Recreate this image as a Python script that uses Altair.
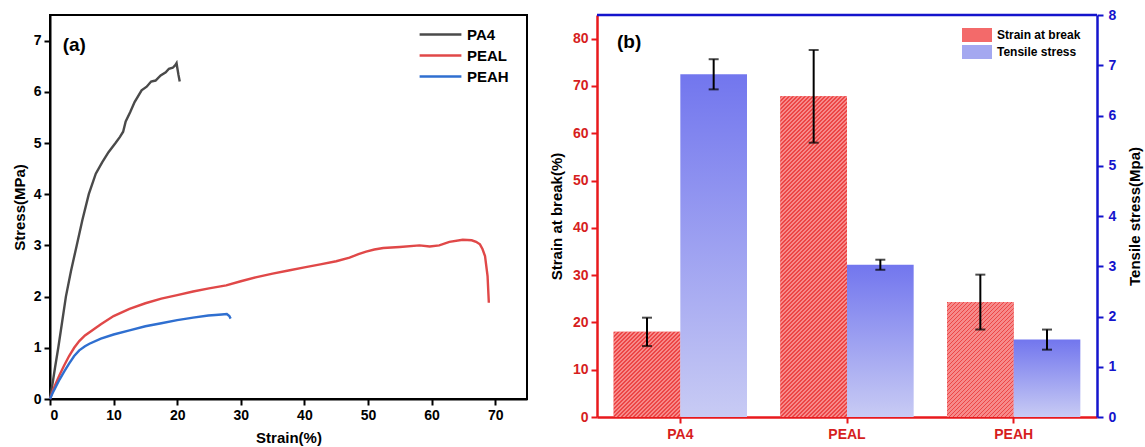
import altair as alt
import pandas as pd

# ---------------- Panel (a): stress-strain curves ----------------
samples = ["PA4", "PEAL", "PEAH"]
line_colors = ["#4a4a4a", "#e04848", "#2f6fd0"]

pa4_strain = [0, 0.4, 0.8, 1.3, 1.9, 2.5, 3.3, 4.2, 5.1, 6.1, 7.2, 8.2, 9.2, 10.3, 11.0, 11.5,
              11.9, 12.6, 13.3, 14.4, 15.2, 15.9, 16.6, 17.4, 18.2, 18.7, 19.3, 19.7, 19.9,
              20.0, 20.2, 20.4]
pa4_stress = [0, 0.3, 0.62, 1.0, 1.5, 2.0, 2.5, 3.0, 3.5, 4.0, 4.4, 4.62, 4.82, 5.0, 5.12, 5.22,
              5.42, 5.6, 5.8, 6.03, 6.1, 6.2, 6.22, 6.32, 6.38, 6.45, 6.47, 6.52, 6.56,
              6.48, 6.33, 6.2]

peal_strain = [0, 0.5, 1.0, 1.5, 2.2, 3.0, 3.8, 4.6, 5.5, 6.5, 8.0, 10.0, 12.5, 15.0, 17.5, 20.0,
               22.5, 25.0, 27.7, 30.0, 32.5, 35.0, 37.5, 40.0, 42.5, 45.0, 47.1, 48.5, 49.7,
               51.0, 52.4, 55.0, 58.1, 59.7, 61.2, 62.8, 64.9, 66.3, 67.0, 67.6, 68.0, 68.4,
               68.8, 69.0]
peal_stress = [0, 0.18, 0.33, 0.47, 0.65, 0.84, 1.0, 1.13, 1.24, 1.33, 1.46, 1.62, 1.76, 1.87,
               1.96, 2.03, 2.1, 2.16, 2.22, 2.3, 2.38, 2.45, 2.51, 2.57, 2.63, 2.69, 2.76, 2.83,
               2.88, 2.92, 2.95, 2.97, 3.0, 2.98, 3.0, 3.07, 3.11, 3.1, 3.07, 3.02, 2.93, 2.79,
               2.4, 1.88]

peah_strain = [0, 0.5, 1.0, 1.5, 2.2, 3.0, 3.8, 4.6, 5.5, 6.2, 8.0, 10.0, 12.5, 15.0, 17.5, 20.0,
               22.5, 24.9, 26.0, 27.0, 27.8, 28.2, 28.4]
peah_stress = [0, 0.14, 0.26, 0.38, 0.53, 0.69, 0.84, 0.95, 1.03, 1.08, 1.18, 1.26, 1.34, 1.42,
               1.48, 1.54, 1.59, 1.63, 1.64, 1.65, 1.66, 1.62, 1.57]

# ---------------- Panel (b): bar data ----------------
series_names = ["Strain at break", "Tensile stress"]
strain_break = [18.0, 67.8, 24.3]
strain_break_err = [3.0, 9.8, 5.8]
tensile = [6.82, 3.03, 1.54]
tensile_err = [0.3, 0.1, 0.2]

RED = "#e8191c"
RED_LABEL = "#d61e1e"
BLUE = "#1414cc"
FONT = "Liberation Sans"

A_W, A_H = 477, 384
B_W, B_H = 500, 402
YL_MAX, YR_MAX = 85, 8

rows = []
for name, xs, ys in [("PA4", pa4_strain, pa4_stress),
                     ("PEAL", peal_strain, peal_stress),
                     ("PEAH", peah_strain, peah_stress)]:
    for i, (sx, sy) in enumerate(zip(xs, ys)):
        rows.append({"sample": name, "strain": sx, "stress": sy, "idx": i})
curves = pd.DataFrame(rows)

curve_chart = alt.Chart(curves).mark_line(strokeWidth=2.4).encode(
    x=alt.X("strain:Q", scale=alt.Scale(domain=[0, 75], nice=False),
            axis=alt.Axis(values=list(range(0, 80, 10)), title="Strain(%)", grid=False,
                          domainColor="black", domainWidth=2, tickColor="black", tickWidth=2,
                          tickSize=6, labelFont=FONT, labelFontSize=14, labelFontWeight="bold",
                          labelColor="black", titleFont=FONT, titleFontSize=15,
                          titleFontWeight="bold", titleColor="black", labelPadding=3,
                          titlePadding=8)),
    y=alt.Y("stress:Q", scale=alt.Scale(domain=[0, 7.5], nice=False),
            axis=alt.Axis(values=list(range(0, 8)), title="Stress(MPa)", grid=False,
                          domainColor="black", domainWidth=2, tickColor="black", tickWidth=2,
                          tickSize=6, labelFont=FONT, labelFontSize=14, labelFontWeight="bold",
                          labelColor="black", titleFont=FONT, titleFontSize=15,
                          titleFontWeight="bold", titleColor="black", labelPadding=3,
                          titlePadding=6)),
    color=alt.Color("sample:N", scale=alt.Scale(domain=samples, range=line_colors),
                    legend=alt.Legend(title=None, orient="none", legendX=378, legendY=7,
                                      padding=0, symbolType="M-1.9,0H1.9", symbolSize=484,
                                      symbolStrokeWidth=2.6, labelFont=FONT, labelFontSize=15,
                                      labelFontWeight="bold", labelColor="black",
                                      rowPadding=0, labelOffset=14)),
    order="idx:Q",
)

label_a = alt.Chart(pd.DataFrame({"t": ["(a)"]})).mark_text(
    align="left", baseline="middle", font=FONT, fontSize=19, fontWeight="bold", color="black"
).encode(text="t:N", x=alt.datum(2.0), y=alt.datum(6.92))

panel_a = alt.layer(curve_chart, label_a).properties(
    width=A_W, height=A_H,
    view=alt.ViewBackground(stroke="black", strokeWidth=2),
)

# ---------------- Panel (b) ----------------
sdf = pd.DataFrame({
    "sample": samples,
    "series": series_names[0],
    "value": strain_break,
    "lo": [v - e for v, e in zip(strain_break, strain_break_err)],
    "hi": [v + e for v, e in zip(strain_break, strain_break_err)],
})
tdf = pd.DataFrame({
    "sample": samples,
    "series": series_names[1],
    "value": tensile,
    "lo": [v - e for v, e in zip(tensile, tensile_err)],
    "hi": [v + e for v, e in zip(tensile, tensile_err)],
})

xenc = alt.X("sample:N", sort=samples,
             scale=alt.Scale(paddingInner=0.2, paddingOuter=0.1),
             axis=alt.Axis(title=None, labelAngle=0, domainColor=RED, domainWidth=2.5,
                           tickColor=RED, tickWidth=2, tickSize=6, labelFont=FONT,
                           labelFontSize=14, labelFontWeight="bold", labelColor=RED_LABEL,
                           labelPadding=4))
xoff = alt.XOffset("series:N", scale=alt.Scale(domain=series_names, paddingInner=0,
                                               paddingOuter=0))

yl_scale = alt.Scale(domain=[0, YL_MAX], nice=False)
yr_scale = alt.Scale(domain=[0, YR_MAX], nice=False)

red_bars = alt.Chart(sdf).mark_bar(opacity=1).encode(
    x=xenc, xOffset=xoff,
    y=alt.Y("value:Q", scale=yl_scale,
            axis=alt.Axis(values=list(range(0, 90, 10)), title="Strain at break(%)",
                          grid=False, orient="left", domainColor=RED, domainWidth=2.5,
                          tickColor=RED, tickWidth=2, tickSize=6, labelFont=FONT,
                          labelFontSize=14, labelFontWeight="bold", labelColor=RED_LABEL,
                          titleFont=FONT, titleFontSize=15, titleFontWeight="bold",
                          titleColor="black", labelPadding=3, titlePadding=8)),
    color=alt.Color("series:N",
                    scale=alt.Scale(domain=series_names, range=["#f36a6a", "#a4a8f0"]),
                    legend=alt.Legend(title=None, orient="none", legendX=373, legendY=13,
                                      padding=0, symbolType="M-2.14,-1H2.14V1H-2.14Z",
                                      symbolSize=196, symbolStrokeWidth=0, labelFont=FONT,
                                      labelFontSize=12, labelFontWeight="bold",
                                      labelColor="black", rowPadding=3, labelOffset=13)),
)


# diagonal hatch drawn as a striped linear gradient, one per bar (bbox-relative)
def hatch(value):
    w = B_W / 3 * 0.8 / 2
    h = value / YL_MAX * B_H
    L = w + h
    period = 4.0
    dark_frac = 0.45
    stops = []
    k = 0
    while k * period < L:
        t0 = k * period / L
        t1 = min((k * period + period * dark_frac) / L, 1)
        t2 = min((k + 1) * period / L, 1)
        stops += [alt.GradientStop(color="#ec4646", offset=t0),
                  alt.GradientStop(color="#ec4646", offset=t1),
                  alt.GradientStop(color="#f68a8a", offset=t1),
                  alt.GradientStop(color="#f68a8a", offset=t2)]
        k += 1
    den = w * w + h * h
    return alt.Gradient(gradient="linear", stops=stops, x1=0, y1=0,
                        x2=w * L / den, y2=h * L / den)


hatch_layers = []
for s, v in zip(samples, strain_break):
    hatch_layers.append(
        alt.Chart(sdf).transform_filter(alt.datum.sample == s).mark_bar(color=hatch(v)).encode(
            x=xenc, xOffset=xoff, y=alt.Y("value:Q", scale=yl_scale))
    )

red_rule = alt.Chart(sdf).mark_rule(color="black", strokeWidth=2).encode(
    x=xenc, xOffset=xoff, y=alt.Y("lo:Q", scale=yl_scale), y2="hi:Q")
red_cap_lo = alt.Chart(sdf).mark_tick(color="black", thickness=2, size=10).encode(
    x=xenc, xOffset=xoff, y=alt.Y("lo:Q", scale=yl_scale))
red_cap_hi = alt.Chart(sdf).mark_tick(color="black", thickness=2, size=10).encode(
    x=xenc, xOffset=xoff, y=alt.Y("hi:Q", scale=yl_scale))
label_b = alt.Chart(pd.DataFrame({"t": ["(b)"]})).mark_text(
    align="left", baseline="middle", font=FONT, fontSize=19, fontWeight="bold", color="black"
).encode(text="t:N", x=alt.value(20), y=alt.datum(79.3))

left_layer = alt.layer(red_bars, *hatch_layers, red_rule, red_cap_lo, red_cap_hi, label_b)

blue_grad = alt.Gradient(
    gradient="linear",
    stops=[alt.GradientStop(color="#7276ee", offset=0),
           alt.GradientStop(color="#c8cbf4", offset=1)],
    x1=0, x2=0, y1=0, y2=1,
)
blue_bars = alt.Chart(tdf).mark_bar(color=blue_grad).encode(
    x=xenc, xOffset=xoff,
    y=alt.Y("value:Q", scale=yr_scale,
            axis=alt.Axis(values=list(range(0, 9)), title="Tensile stress(Mpa)", grid=False,
                          orient="right", domainColor=BLUE, domainWidth=2.5, tickColor=BLUE,
                          tickWidth=2, tickSize=6, labelFont=FONT, labelFontSize=14,
                          labelFontWeight="bold", labelColor=BLUE, titleFont=FONT,
                          titleFontSize=15, titleFontWeight="bold", titleColor="black",
                          titleAngle=270, titleBaseline="top", labelPadding=5,
                          titlePadding=12)),
)
blue_rule = alt.Chart(tdf).mark_rule(color="black", strokeWidth=2).encode(
    x=xenc, xOffset=xoff, y=alt.Y("lo:Q", scale=yr_scale), y2="hi:Q")
blue_cap_lo = alt.Chart(tdf).mark_tick(color="black", thickness=2, size=10).encode(
    x=xenc, xOffset=xoff, y=alt.Y("lo:Q", scale=yr_scale))
blue_cap_hi = alt.Chart(tdf).mark_tick(color="black", thickness=2, size=10).encode(
    x=xenc, xOffset=xoff, y=alt.Y("hi:Q", scale=yr_scale))
top_border = alt.Chart(pd.DataFrame({"v": [YR_MAX]})).mark_rule(
    color=BLUE, strokeWidth=2.5).encode(y=alt.Y("v:Q", scale=yr_scale))

right_layer = alt.layer(blue_bars, blue_rule, blue_cap_lo, blue_cap_hi, top_border)

panel_b = alt.layer(left_layer, right_layer).resolve_scale(y="independent").properties(
    width=B_W, height=B_H,
    view=alt.ViewBackground(stroke=None),
)

chart = alt.hconcat(panel_a, panel_b, spacing=21).resolve_scale(color="independent").properties(
    padding={"left": 11, "top": 8, "right": 2, "bottom": 0},
).configure(background="white")

chart.save("out.html", embed_options={"renderer": "svg", "actions": False})
